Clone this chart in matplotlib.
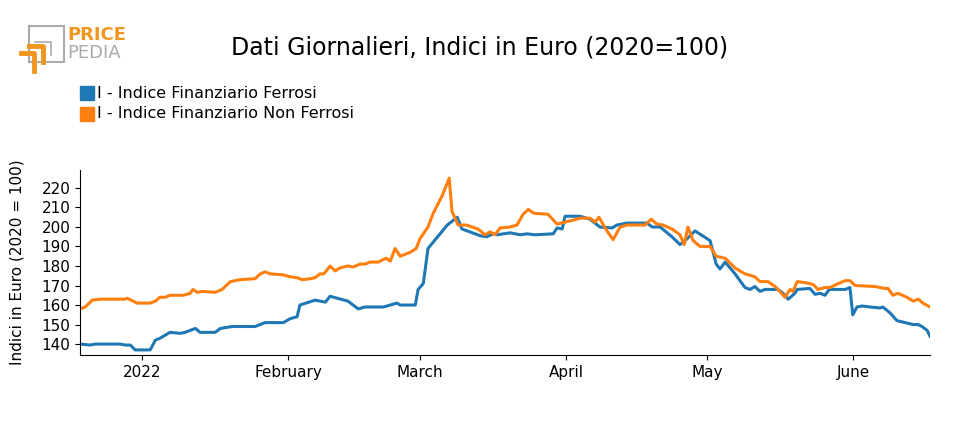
import datetime as dt
import numpy as np
import matplotlib
matplotlib.use("Agg")
import matplotlib.pyplot as plt
import matplotlib.dates as mdates
from matplotlib.patches import Rectangle

# days since 2022-01-01
ferrosi_days = [-13.2, -11, -10, -7, -4.7, -3.6, -2.5, -1.5, 1.7, 2.8, 3.8, 5.9, 8.1, 9.1, 11.3,
                12.3, 15.5, 16.6, 19.1, 24, 26.1, 30, 31.4, 32.9, 33.5, 36.7, 38.9, 39.9, 43.7,
                45.9, 47.3, 51.2, 52.7, 54.1, 54.8, 58, 58.6, 59.7, 60.7, 64.8, 66.9, 67.9, 71.8,
                73.2, 74.5, 75.4, 78.1, 80.3, 81.7, 83.4, 87.3, 88.1, 89.2, 89.8, 93, 95.1, 97.2,
                99.8, 100.8, 103, 107.2, 108.3, 110, 112.5, 114.2, 115.3, 117.4, 120.6, 121.9,
                122.7, 123.8, 125.9, 128, 129.1, 130.1, 131.2, 132.3, 135, 136.1, 137.2, 138.6,
                139.1, 141.8, 142.9, 144, 145, 145.9, 149.3, 150.3, 150.9, 151.8, 152.9, 154.6,
                156.7, 157.3, 158.8, 160.3, 162, 163.7, 164.8, 165.6, 166.7, 167.3]
ferrosi = [140, 139.5, 140, 140, 140, 139.5, 139.5, 137, 137, 142, 143, 146, 145.5, 146, 148,
           146, 146, 148, 149, 149, 151, 151, 153, 154, 160, 162.5, 161.5, 164.5, 162,
           158, 159, 159, 160, 161, 160, 160, 168, 171, 189, 201, 205, 199, 195.5,
           195, 196.5, 196, 197, 196, 196.5, 196, 196.5, 199.5, 199, 205.5, 205.5, 204, 200,
           199.5, 201, 202, 202, 200, 200, 195, 191, 193, 198, 193, 181,
           178.5, 182, 176, 169, 168, 169.5, 167, 168, 168, 166, 163, 166,
           168, 168.5, 165.5, 166, 165, 168, 168, 169, 155, 159, 159.5, 159,
           158.5, 159, 156, 152, 151, 150, 150, 149, 147, 144]

non_ferrosi_days = [-13.2, -12.1, -10.6, -8.9, -3.6, -3.2, -1.9, -1.1, 1.7, 2.8, 3.8, 4.9, 5.9,
                    8.7, 10.2, 10.8, 11.7, 12.7, 15.5, 17, 18.7, 20.8, 24, 25.1, 26.1, 27.2, 29.9,
                    31.4, 32.9, 34, 35.7, 36.7, 37.8, 38.6, 39.9, 41, 42, 43.7, 44.8, 46.3, 47.3,
                    48.4, 50.1, 51.8, 52.7, 53.7, 54.8, 56.9, 58.2, 59, 60.7, 61.8, 63.7, 65.2,
                    65.8, 67.1, 68.8, 71.3, 72.8, 73.9, 74.9, 76, 78.1, 79.6, 80.9, 82, 83.2, 86.2,
                    88.1, 89.8, 91.5, 93, 95.1, 96.2, 97, 98.7, 100, 101.5, 103, 106.8, 108.1,
                    109.3, 110.6, 112.5, 114.2, 115.1, 115.9, 117, 118.5, 120.6, 121.9, 123.8,
                    125.9, 128, 130.1, 131.2, 132.9, 134.4, 135, 136.5, 137.6, 138.2, 139.1,
                    140.8, 142.5, 143.5, 145, 146.1, 147.8, 149.3, 150.3, 151.4, 155.6, 156.7,
                    157.7, 158.4, 159.4, 160.5, 162.4, 163.7, 164.8, 165.8, 167.3]
non_ferrosi = [158, 159, 162.5, 163, 163, 163.5, 162, 161, 161, 162, 164, 164, 165,
               165, 166, 168, 166.5, 167, 166.5, 168, 172, 173, 173.5, 176, 177, 176, 175.5,
               174.5, 174, 173, 173.5, 174, 176, 176, 180, 177.5, 179, 180, 179.5, 181, 181,
               182, 182, 184, 182.5, 189, 185, 187, 189, 194, 200, 207, 216, 225,
               208, 201, 201, 199, 196, 197.5, 196, 199.5, 200, 201, 206.5, 209, 207, 206.5,
               201.5, 202.5, 203.5, 204.5, 204.5, 202.5, 205, 198, 193.5, 200, 201, 201, 204,
               201.5, 201, 199, 196, 191, 200, 193, 190, 190, 185, 184,
               179, 176, 174.5, 172, 172, 169.5, 168, 164, 168, 167, 172,
               171.5, 170.5, 168, 169, 169, 171, 172.5, 172.5, 170, 169.5, 169,
               168.5, 168.5, 165, 166, 164, 162, 163, 161, 159]

tick_dates = ["2022-01-01", "2022-02-01", "2022-03-01", "2022-04-01", "2022-05-01", "2022-06-01"]
tick_labels = ["2022", "February", "March", "April", "May", "June"]
y_ticks = [140, 150, 160, 170, 180, 190, 200, 210, 220]

BLUE = "#1f77b4"
ORANGE = "#ff7f0e"
base = dt.datetime(2022, 1, 1)


def to_dates(days):
    return [base + dt.timedelta(days=d) for d in days]


fig = plt.figure(figsize=(9.6, 4.3), dpi=100)
ax = fig.add_axes([80 / 960, 1 - 355 / 430, 850 / 960, 185 / 430])

ax.plot(to_dates(ferrosi_days), ferrosi, color=BLUE, lw=2.2)
ax.plot(to_dates(non_ferrosi_days), non_ferrosi, color=ORANGE, lw=2.2)

ax.set_xlim(to_dates([-13.2])[0], to_dates([167.3])[0])
ax.set_ylim(134.4, 229.2)
ax.set_yticks(y_ticks)
ax.set_xticks([dt.datetime.fromisoformat(d) for d in tick_dates])
ax.set_xticklabels(tick_labels)
ax.tick_params(labelsize=11)
for s in ["top", "right"]:
    ax.spines[s].set_visible(False)
ax.set_ylabel("Indici in Euro (2020 = 100)", fontsize=11, labelpad=12)

fig.text(480 / 960, 1 - 47 / 430, "Dati Giornalieri, Indici in Euro (2020=100)",
         ha="center", va="center", fontsize=17)

# legend
for i, (c, lab) in enumerate([(BLUE, "I - Indice Finanziario Ferrosi"),
                              (ORANGE, "I - Indice Finanziario Non Ferrosi")]):
    y = 1 - (93 + i * 21) / 430
    fig.patches.append(Rectangle((80 / 960, y - 7 / 430), 14 / 960, 14 / 430,
                                 transform=fig.transFigure, color=c))
    fig.text(97 / 960, y, lab, va="center", fontsize=11.5)

# logo
gray = "#aaaaaa"
lo = "#f0961e"
fig.patches.append(Rectangle((29 / 960, 1 - 62 / 430), 35 / 960, 36 / 430, fill=False,
                             ec=gray, lw=1.5, transform=fig.transFigure))
fig.lines.append(plt.Line2D([35 / 960, 51 / 960, 51 / 960], [1 - 42 / 430] * 2 + [1 - 55 / 430],
                            color=gray, lw=1.2, transform=fig.transFigure))
fig.lines.append(plt.Line2D([21 / 960, 34 / 960, 34 / 960], [1 - 53 / 430] * 2 + [1 - 71 / 430],
                            color=lo, lw=3.5, transform=fig.transFigure))
fig.lines.append(plt.Line2D([29 / 960, 43 / 960, 43 / 960], [1 - 46 / 430] * 2 + [1 - 62 / 430],
                            color=lo, lw=3.5, transform=fig.transFigure))
fig.text(67 / 960, 1 - 35 / 430, "PRICE", color=lo, fontsize=13, fontweight="bold", va="center")
fig.text(67 / 960, 1 - 53 / 430, "PEDIA", color=gray, fontsize=13, va="center")

fig.savefig("out.png", dpi=100)
